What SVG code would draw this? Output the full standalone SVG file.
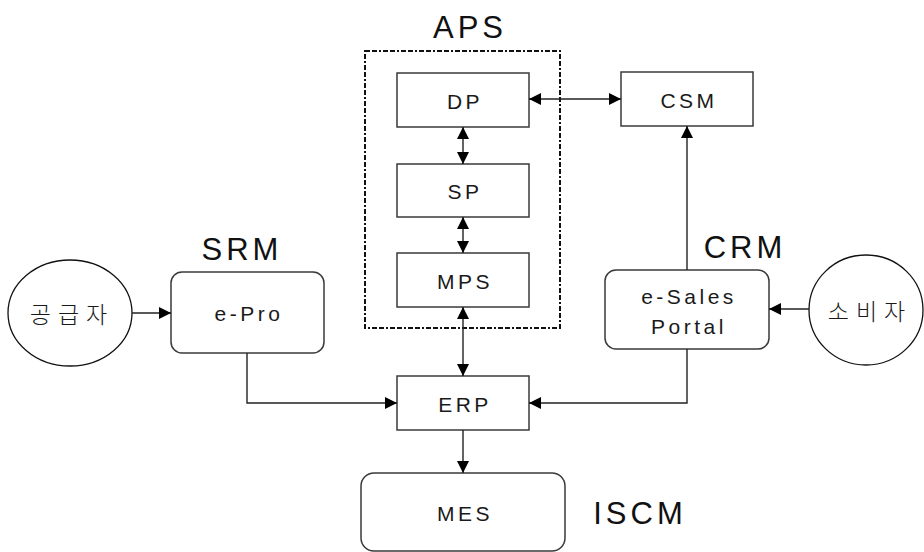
<svg xmlns="http://www.w3.org/2000/svg" width="924" height="552" viewBox="0 0 924 552">
<style>
.box{fill:#fff;stroke:#3a3a3a;stroke-width:1.5}
.ell{fill:#fff;stroke:#111;stroke-width:1.3}
.lbl{font-family:"Liberation Sans","Noto Sans CJK KR",sans-serif;font-size:21px;letter-spacing:3.5px;fill:#1a1a1a;text-anchor:middle;dominant-baseline:central}
.kr{font-family:"Noto Sans CJK KR","Liberation Sans",sans-serif;font-size:23px;letter-spacing:7px;fill:#1a1a1a;text-anchor:middle;dominant-baseline:central;font-weight:300}
.title{font-family:"Liberation Sans",sans-serif;font-size:31px;letter-spacing:4px;fill:#111;text-anchor:middle}
.con{fill:none;stroke:#222;stroke-width:1.4}
.grp{fill:none;stroke:#111;stroke-width:2;stroke-dasharray:5,2,5,2,2,2}
</style>
<defs>
<marker id="arr" viewBox="0 0 10 10" refX="10" refY="5" markerWidth="12" markerHeight="12" markerUnits="userSpaceOnUse" orient="auto-start-reverse">
<path d="M0,0 L10,5 L0,10 Z" fill="#000"/>
</marker>
</defs>

<g id="aps-group">
<rect class="grp" x="365" y="51" width="195" height="277"/>
<text class="title" x="470" y="38">APS</text>
</g>
<text class="title" x="242" y="260">SRM</text>
<text class="title" x="745" y="258">CRM</text>
<text class="title" x="640" y="524">ISCM</text>

<g id="dp"><rect class="box" x="397" y="73" width="132" height="54"/><text class="lbl" x="465" y="101">DP</text></g>
<g id="sp"><rect class="box" x="397" y="164" width="132" height="53"/><text class="lbl" x="465" y="191">SP</text></g>
<g id="mps"><rect class="box" x="397" y="253" width="132" height="54"/><text class="lbl" x="465" y="281">MPS</text></g>
<g id="csm"><rect class="box" x="621" y="72" width="132" height="54"/><text class="lbl" x="689" y="100">CSM</text></g>
<g id="erp"><rect class="box" x="397" y="376" width="132" height="54"/><text class="lbl" x="465" y="404">ERP</text></g>
<g id="mes"><rect class="box" x="361" y="473" width="204" height="78" rx="13"/><text class="lbl" x="465" y="513">MES</text></g>
<g id="epro"><rect class="box" x="171" y="272" width="153" height="81" rx="11"/><text class="lbl" x="249" y="313">e-Pro</text></g>
<g id="esales"><rect class="box" x="605" y="270" width="164" height="79" rx="11"/><text class="lbl" x="689" y="296">e-Sales</text><text class="lbl" x="689" y="326">Portal</text></g>
<g id="supplier"><ellipse class="ell" cx="70" cy="313" rx="62" ry="53"/><text class="kr" x="72" y="313">공급자</text></g>
<g id="consumer"><ellipse class="ell" cx="866" cy="310" rx="57" ry="55"/><text class="kr" x="870" y="310">소비자</text></g>

<g id="connectors">
<line class="con" x1="529" y1="99" x2="621" y2="99" marker-start="url(#arr)" marker-end="url(#arr)"/>
<line class="con" x1="463" y1="127" x2="463" y2="164" marker-start="url(#arr)" marker-end="url(#arr)"/>
<line class="con" x1="463" y1="217" x2="463" y2="253" marker-start="url(#arr)" marker-end="url(#arr)"/>
<line class="con" x1="463" y1="307" x2="463" y2="376" marker-start="url(#arr)" marker-end="url(#arr)"/>
<line class="con" x1="463" y1="430" x2="463" y2="473" marker-end="url(#arr)"/>
<line class="con" x1="132" y1="313" x2="171" y2="313" marker-end="url(#arr)"/>
<line class="con" x1="809" y1="309" x2="769" y2="309" marker-end="url(#arr)"/>
<line class="con" x1="687" y1="270" x2="687" y2="126" marker-end="url(#arr)"/>
<path class="con" d="M687,349 V403 H529" marker-end="url(#arr)"/>
<path class="con" d="M247,353 V403 H397" marker-end="url(#arr)"/>
</g>
</svg>
